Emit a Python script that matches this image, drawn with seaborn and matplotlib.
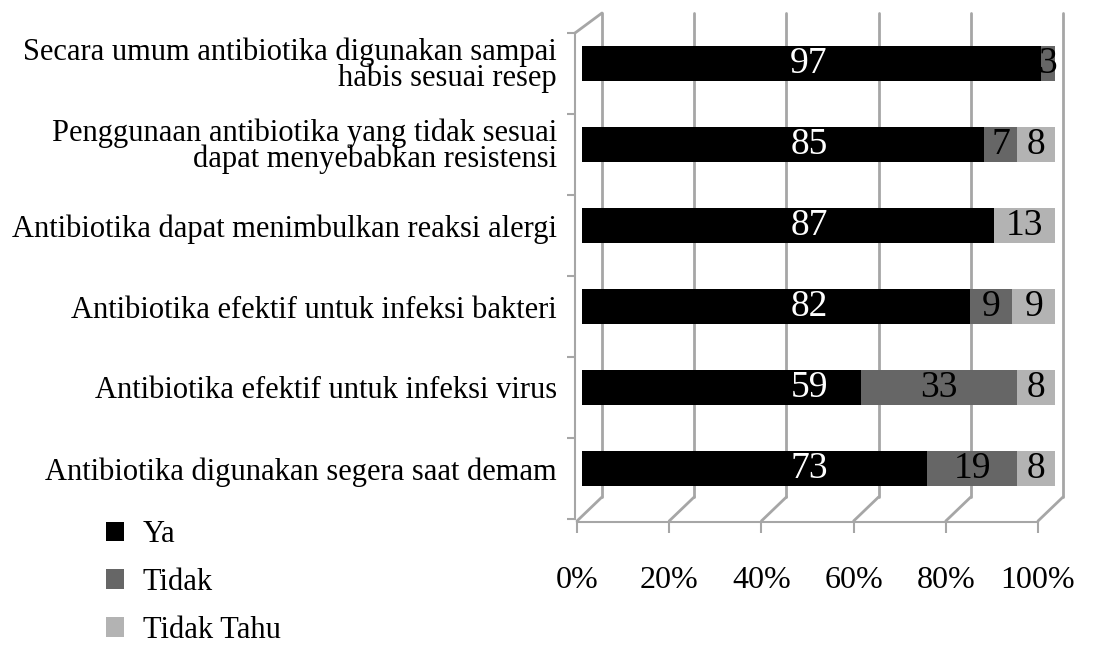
import numpy as np
import pandas as pd
import matplotlib
matplotlib.use("Agg")
import matplotlib.pyplot as plt
import seaborn as sns

# data (percent), top to bottom
categories = [
    "Secara umum antibiotika digunakan sampai\nhabis sesuai resep",
    "Penggunaan antibiotika yang tidak sesuai\ndapat menyebabkan resistensi",
    "Antibiotika dapat menimbulkan reaksi alergi",
    "Antibiotika efektif untuk infeksi bakteri",
    "Antibiotika efektif untuk infeksi virus",
    "Antibiotika digunakan segera saat demam",
]
ya = [97, 85, 87, 82, 59, 73]
tidak = [3, 7, 0, 9, 33, 19]
tidak_tahu = [0, 8, 13, 9, 8, 8]
x_ticks = [0, 20, 40, 60, 80, 100]

colors = {"Ya": "#000000", "Tidak": "#666666", "Tidak Tahu": "#b3b3b3"}
frame_c = "#a6a6a6"

sns.set_style("white")
plt.rcParams["font.family"] = ["Liberation Serif", "DejaVu Serif"]
for k in ["text.color", "axes.labelcolor", "xtick.labelcolor", "ytick.labelcolor"]:
    plt.rcParams[k] = "black"

W, H = 1100, 650
fig = plt.figure(figsize=(W / 100, H / 100), dpi=100)


def px_rect(l, t, r, b):
    return [l / W, 1 - b / H, (r - l) / W, (b - t) / H]


df = pd.DataFrame({"cat": categories, "ya": ya, "tidak": tidak, "tt": tidak_tahu})
df["ya_tidak"] = df["ya"] + df["tidak"]
df["total"] = df["ya_tidak"] + df["tt"]
n = len(categories)

# pseudo 3d frame (pixel space)
frame = fig.add_axes([0, 0, 1, 1], zorder=0)
frame.set_xlim(0, W)
frame.set_ylim(H, 0)
frame.set_axis_off()
back_x0, front_x0, scale = 602, 577, 4.61
back_top, back_bot, front_bot = 13, 497, 521
for v in x_ticks:
    bx = back_x0 + v * scale
    fx = front_x0 + v * scale
    frame.plot([bx, bx], [back_top, back_bot], color=frame_c, lw=2)
    frame.plot([bx, fx], [back_bot, front_bot], color=frame_c, lw=2)
frame.plot([575, back_x0], [33, back_top], color=frame_c, lw=2)

# left wall (front edge with category ticks)
wall = fig.add_axes(px_rect(575, 33, 600, 519), zorder=1)
wall.patch.set_alpha(0)
wall.set_ylim(n - 0.5, -0.5)
wall.set_xticks([])
for s in ["top", "right", "bottom"]:
    wall.spines[s].set_visible(False)
wall.spines["left"].set_color(frame_c)
wall.spines["left"].set_linewidth(1.5)
wall.set_yticks(np.arange(-0.5, n, 1))
wall.set_yticklabels([])
wall.tick_params(axis="y", length=6, width=1.5, color=frame_c, left=True)

# bars (sit half a depth step behind the front edge)
ax = fig.add_axes(px_rect(575, 23, 1063, 509), zorder=2)
ax.patch.set_alpha(0)
bar_scale = 4.73
x_lo = -7 / bar_scale
x_hi = x_lo + (1063 - 575) / bar_scale

sns.barplot(data=df, x="total", y="cat", orient="h", color=colors["Tidak Tahu"],
            saturation=1, width=0.42, linewidth=0, label="Tidak Tahu", ax=ax)
sns.barplot(data=df, x="ya_tidak", y="cat", orient="h", color=colors["Tidak"],
            saturation=1, width=0.42, linewidth=0, label="Tidak", ax=ax)
sns.barplot(data=df, x="ya", y="cat", orient="h", color=colors["Ya"],
            saturation=1, width=0.42, linewidth=0, label="Ya", ax=ax)
if ax.get_legend() is not None:
    ax.get_legend().remove()

for i, row in df.iterrows():
    ax.text(48, i, f"{row['ya']}", color="white", fontsize=27, ha="center", va="center")
    if row["tidak"] > 0:
        ax.text(row["ya"] + row["tidak"] / 2, i, f"{row['tidak']}", color="black",
                fontsize=27, ha="center", va="center")
    if row["tt"] > 0:
        ax.text(row["ya_tidak"] + row["tt"] / 2, i, f"{row['tt']}", color="black",
                fontsize=27, ha="center", va="center")

ax.set_xlim(x_lo, x_hi)
ax.set_ylim(n - 0.5, -0.5)
ax.set_xlabel("")
ax.set_ylabel("")
ax.set_xticks([])
for s in ["top", "right", "bottom", "left"]:
    ax.spines[s].set_visible(False)
ax.tick_params(axis="y", which="major", length=0, pad=13, labelsize=22)
for lab in ax.get_yticklabels():
    lab.set_linespacing(0.85)

# front percent axis
ax_x = fig.add_axes(px_rect(577, 521, 1038, 521.5), zorder=1)
ax_x.patch.set_alpha(0)
ax_x.set_xlim(0, 100)
ax_x.set_xticks(x_ticks)
ax_x.set_xticklabels([f"{v}%" for v in x_ticks])
ax_x.set_yticks([])
for s in ["top", "right", "left"]:
    ax_x.spines[s].set_visible(False)
ax_x.spines["bottom"].set_color(frame_c)
ax_x.spines["bottom"].set_linewidth(1.5)
ax_x.tick_params(axis="x", direction="out", length=8, width=1.5, color=frame_c,
                 pad=24, labelsize=23, bottom=True)

# legend
handles, labels = ax.get_legend_handles_labels()
order = ["Ya", "Tidak", "Tidak Tahu"]
hmap = dict(zip(labels, handles))
fig.legend([hmap[k] for k in order], order, loc="upper left",
           bbox_to_anchor=(106 / W, 1 - 520 / H), frameon=False, fontsize=22,
           handlelength=0.6, handleheight=0.6, handletextpad=0.6,
           labelspacing=0.62, borderpad=0, borderaxespad=0)

fig.savefig("out.png", dpi=100)
